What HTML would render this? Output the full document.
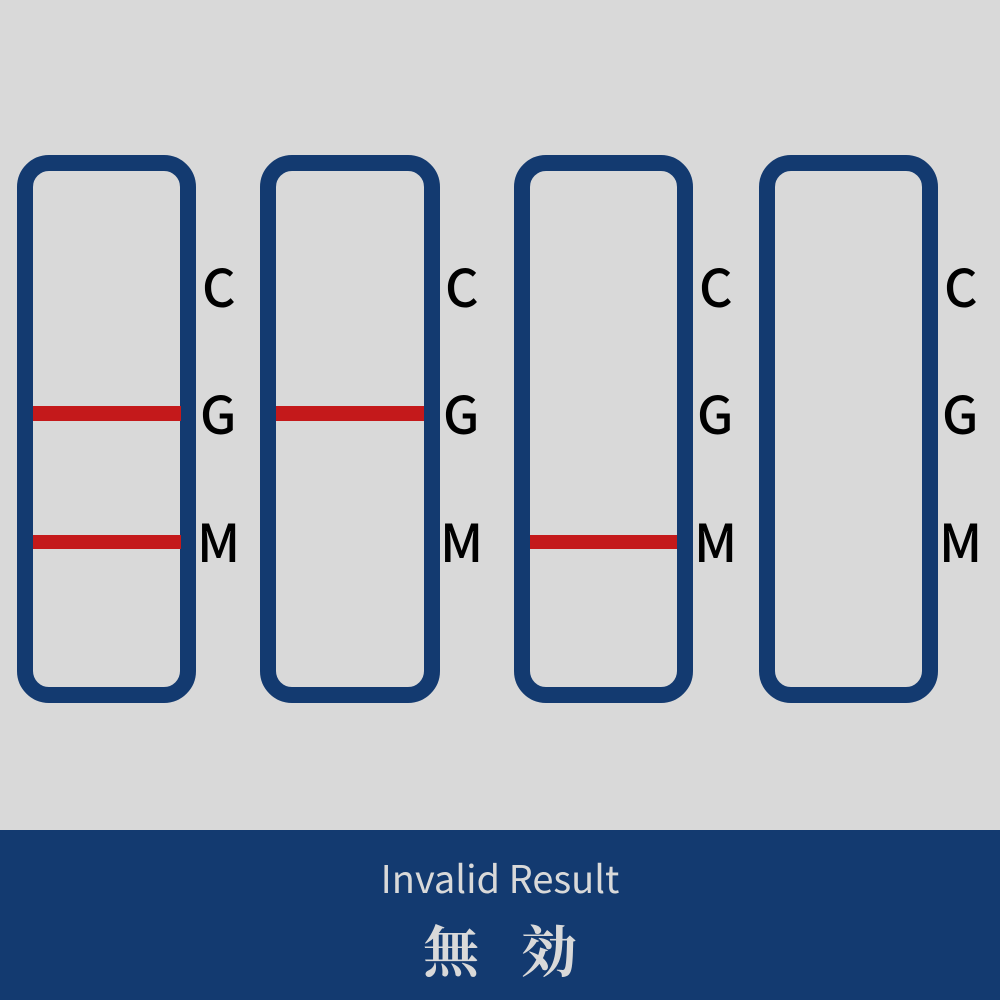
<!DOCTYPE html>
<html><head><meta charset="utf-8"><style>
html,body{margin:0;padding:0;}
body{width:1000px;height:1000px;background:#d9d9d9;position:relative;overflow:hidden;}
svg{position:absolute;left:0;top:0;}
</style></head><body>
<svg width="1000" height="1000" viewBox="0 0 1000 1000">
<g fill="none" stroke="#133a70" stroke-width="16">
<rect x="25" y="163" width="163" height="532" rx="24"/>
<rect x="268" y="163" width="164" height="532" rx="24"/>
<rect x="522" y="163" width="163" height="532" rx="24"/>
<rect x="767" y="163" width="163" height="532" rx="24"/>
</g>
<g fill="#c4191b">
<rect x="33" y="406" width="148" height="15"/>
<rect x="33" y="535" width="148" height="14"/>
<rect x="276" y="406" width="148" height="15"/>
<rect x="530" y="535" width="147" height="14"/>
</g>
<g font-family="'Noto Sans CJK JP','Liberation Sans',sans-serif" font-size="52" font-weight="500" fill="#000">
<text x="202" y="307">C</text><text x="200" y="434">G</text><text x="197" y="562">M</text>
<text x="445" y="307">C</text><text x="443" y="434">G</text><text x="440" y="562">M</text>
<text x="699" y="307">C</text><text x="697" y="434">G</text><text x="694" y="562">M</text>
<text x="944" y="307">C</text><text x="942" y="434">G</text><text x="939" y="562">M</text>
</g>
<rect x="0" y="830" width="1000" height="170" fill="#133a70"/>
<text x="500" y="893" text-anchor="middle" font-family="'Noto Sans CJK JP','Liberation Sans',sans-serif" font-size="38" fill="#d9d9d9">Invalid Result</text>
<text x="451" y="972" text-anchor="middle" font-family="'Noto Serif CJK SC','Noto Sans CJK JP',serif" font-weight="bold" font-size="56" fill="#d9d9d9">無</text>
<text x="549" y="972" text-anchor="middle" font-family="'Noto Serif CJK SC','Noto Sans CJK JP',serif" font-weight="bold" font-size="56" fill="#d9d9d9">効</text>
</svg>
</body></html>
